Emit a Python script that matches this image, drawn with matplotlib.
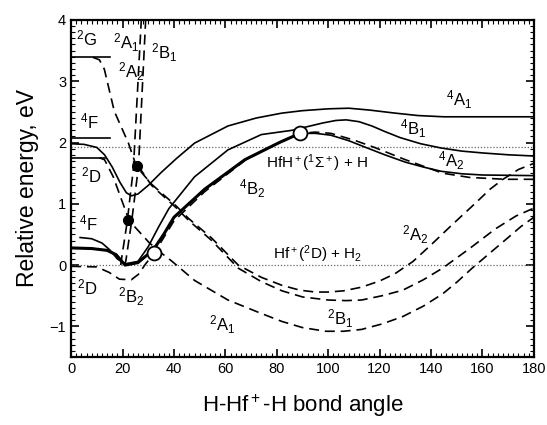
import matplotlib
matplotlib.use("Agg")
import matplotlib.pyplot as plt
from matplotlib.ticker import MultipleLocator

plt.rcParams['font.family'] = ['Liberation Sans', 'DejaVu Sans']
plt.rcParams['mathtext.fontset'] = 'custom'
plt.rcParams['mathtext.rm'] = 'Liberation Sans'
plt.rcParams['mathtext.it'] = 'Liberation Sans:italic'
plt.rcParams['mathtext.bf'] = 'Liberation Sans:bold'

# Quartet surfaces (solid lines): bond angle (deg) vs relative energy (eV)
a_4A1 = [0, 5, 10, 13, 16, 19, 21.5, 23.5, 26, 30, 35, 41, 48, 61, 72, 82, 90, 100, 108, 116, 126, 135, 145, 180]
e_4A1 = [1.98, 1.97, 1.92, 1.8, 1.6, 1.35, 1.18, 1.13, 1.16, 1.3, 1.51, 1.74, 1.99, 2.27, 2.4, 2.48, 2.52, 2.55, 2.56, 2.53, 2.48, 2.44, 2.42, 2.42]

a_4B1 = [3.5, 8, 12, 15, 18, 21, 26, 30, 34, 38, 48, 61, 74, 86, 98, 103, 107, 112, 117, 122, 128, 136, 144, 152, 160, 170, 180]
e_4B1 = [0.45, 0.43, 0.36, 0.25, 0.1, 0.02, 0.06, 0.3, 0.62, 0.92, 1.44, 1.88, 2.13, 2.2, 2.32, 2.36, 2.37, 2.34, 2.27, 2.18, 2.08, 1.98, 1.91, 1.86, 1.83, 1.8, 1.78]

a_4B2 = [0, 8, 14, 17.5, 21, 26, 32, 36, 40, 52, 67.6, 81, 89]
e_4B2 = [0.28, 0.27, 0.24, 0.17, 0.0, 0.04, 0.25, 0.5, 0.78, 1.24, 1.72, 2.0, 2.15]

a_4A2 = [0, 8, 14, 17.5, 21, 26, 32, 36, 40, 52, 67.6, 81, 89, 95, 101, 108, 114, 122, 130, 137, 144, 152, 160, 180]
e_4A2 = [0.28, 0.27, 0.24, 0.17, 0.0, 0.04, 0.25, 0.5, 0.78, 1.24, 1.72, 2.0, 2.15, 2.15, 2.12, 2.03, 1.93, 1.8, 1.68, 1.6, 1.53, 1.49, 1.47, 1.46]

# Doublet surfaces (dashed lines)
a_2A1 = [11, 13, 16.4, 19.5, 22.3, 24.2, 30.5, 35, 39, 48, 61, 74, 82, 90, 99, 106, 113, 121, 129, 137, 144.5, 150, 156, 163, 170, 175, 180]
e_2A1 = [1.75, 1.72, 1.44, 1.08, 0.76, 0.65, 0.36, 0.2, 0.07, -0.25, -0.57, -0.79, -0.92, -1.02, -1.08, -1.08, -1.05, -0.96, -0.84, -0.67, -0.47, -0.28, -0.05, 0.2, 0.45, 0.63, 0.78]

a_2A2 = [8.5, 11, 12.9, 16.8, 22.3, 25.4, 31.3, 41, 45.7, 54.7, 65, 74, 82, 89, 95, 100, 106, 113, 120, 126, 133, 140, 148, 157, 163, 168, 174, 180]
e_2A2 = [3.39, 3.35, 3.2, 2.51, 1.99, 1.61, 1.32, 0.96, 0.76, 0.44, 0.0, -0.2, -0.33, -0.41, -0.44, -0.44, -0.42, -0.36, -0.26, -0.14, 0.06, 0.33, 0.65, 1.0, 1.24, 1.4, 1.56, 1.66]

a_2B1 = [26.2, 31.3, 41, 45.7, 54.7, 65, 74, 82, 90, 100, 107, 113, 121, 129, 137, 144.5, 155, 165, 173, 180]
e_2B1 = [1.61, 1.3, 0.93, 0.73, 0.4, -0.05, -0.27, -0.42, -0.52, -0.57, -0.58, -0.57, -0.5, -0.41, -0.24, -0.05, 0.27, 0.59, 0.8, 0.93]

a_2B2 = [0, 10, 14.8, 18.8, 23.4, 26.2, 29, 32.4, 40, 52, 68, 80, 89, 95, 101, 110, 118, 130, 144.5, 155, 169, 180]
e_2B2 = [-0.02, -0.03, -0.12, -0.23, -0.24, -0.15, 0.02, 0.2, 0.72, 1.2, 1.72, 1.98, 2.15, 2.17, 2.15, 2.04, 1.92, 1.72, 1.5, 1.43, 1.4, 1.4]

# Steep branches at small angles (labelled 2A1 and 2B1 at the top)
a_steep1 = [19.3, 19.5, 21.9, 22.7, 24.2, 27.3]
e_steep1 = [0.0, 0.07, 0.73, 1.03, 1.56, 4.0]
a_steep2 = [20.8, 21.3, 23.6, 24.5, 26.2, 29.0]
e_steep2 = [0.0, 0.07, 0.73, 1.03, 1.61, 4.0]

# Atomic asymptote markers on the left
marker_levels = [3.39, 2.07, 1.75]
marker_ends = [15, 15, 13]

# Crossing points
open_a = [32.4, 89]
open_e = [0.2, 2.15]
filled_a = [25.6, 22.2]
filled_e = [1.61, 0.74]

# Reference levels
dotted_levels = [0.0, 1.93]

fig = plt.figure(figsize=(5.47, 4.25), dpi=100)
ax = fig.add_axes([0.13, 0.16, 0.846, 0.793])

dash = (0, (6, 3.5))
lw = 1.2

for lev in dotted_levels:
    ax.plot([0, 180], [lev, lev], color='#666666', lw=0.9, linestyle=(0, (1, 1.5)))

for lev, end in zip(marker_levels, marker_ends):
    ax.plot([0, end], [lev, lev], color='black', lw=lw)

ax.plot(a_4A1, e_4A1, color='black', lw=lw)
ax.plot(a_4B1, e_4B1, color='black', lw=lw)
ax.plot(a_4B2, e_4B2, color='black', lw=2.2)
ax.plot(a_4A2, e_4A2, color='black', lw=lw)

ax.plot(a_2A1, e_2A1, color='black', lw=lw, linestyle=dash)
ax.plot(a_2A2, e_2A2, color='black', lw=lw, linestyle=dash)
ax.plot(a_2B1, e_2B1, color='black', lw=lw, linestyle=dash)
ax.plot(a_2B2, e_2B2, color='black', lw=lw, linestyle=dash)
ax.plot(a_steep1, e_steep1, color='black', lw=lw, linestyle=dash)
ax.plot(a_steep2, e_steep2, color='black', lw=lw, linestyle=dash)

ax.plot(open_a, open_e, 'o', ms=10, mfc='white', mec='black', mew=1.3, zorder=5)
ax.plot(filled_a, filled_e, 'o', ms=7, color='black', zorder=5)

# State labels
fs = 12
labels = [
    (5.9, 3.7, r'$^2$G'), (21.5, 3.63, r'$^2$A$_1$'), (36, 3.47, r'$^2$B$_1$'),
    (23.4, 3.15, r'$^2$A$_2$'), (7.0, 2.35, r'$^4$F'), (7.8, 1.46, r'$^2$D'),
    (6.6, 0.68, r'$^4$F'), (6.3, -0.36, r'$^2$D'), (23.4, -0.52, r'$^2$B$_2$'),
    (70.3, 1.24, r'$^4$B$_2$'), (150.8, 2.7, r'$^4$A$_1$'), (133, 2.23, r'$^4$B$_1$'),
    (147.7, 1.7, r'$^4$A$_2$'), (134, 0.49, r'$^2$A$_2$'), (58.6, -0.98, r'$^2$A$_1$'),
    (104.7, -0.87, r'$^2$B$_1$'),
]
for x, y, s in labels:
    ax.text(x, y, s, fontsize=fs, ha='center', va='center')

ax.text(95.7, 1.67, r'HfH$^+$($^1\Sigma^+$) + H', fontsize=11, ha='center', va='center')
ax.text(96, 0.17, r'Hf$^+$($^2$D) + H$_2$', fontsize=11, ha='center', va='center')

ax.set_xlim(0, 180)
ax.set_ylim(-1.5, 4)
ax.xaxis.set_major_locator(MultipleLocator(20))
ax.xaxis.set_minor_locator(MultipleLocator(2))
ax.yaxis.set_major_locator(MultipleLocator(1))
ax.yaxis.set_minor_locator(MultipleLocator(0.1))
ax.tick_params(which='both', direction='in', top=True, right=True, labelsize=10.5)
ax.tick_params(which='major', length=6, width=1.2)
ax.tick_params(which='minor', length=3, width=0.8)
for sp in ax.spines.values():
    sp.set_linewidth(1.6)

ax.set_xlabel(r'H-Hf$^+$-H bond angle', fontsize=16, labelpad=12)
ax.set_ylabel('Relative energy, eV', fontsize=16.5, labelpad=8)

fig.savefig('out.png', dpi=100)
